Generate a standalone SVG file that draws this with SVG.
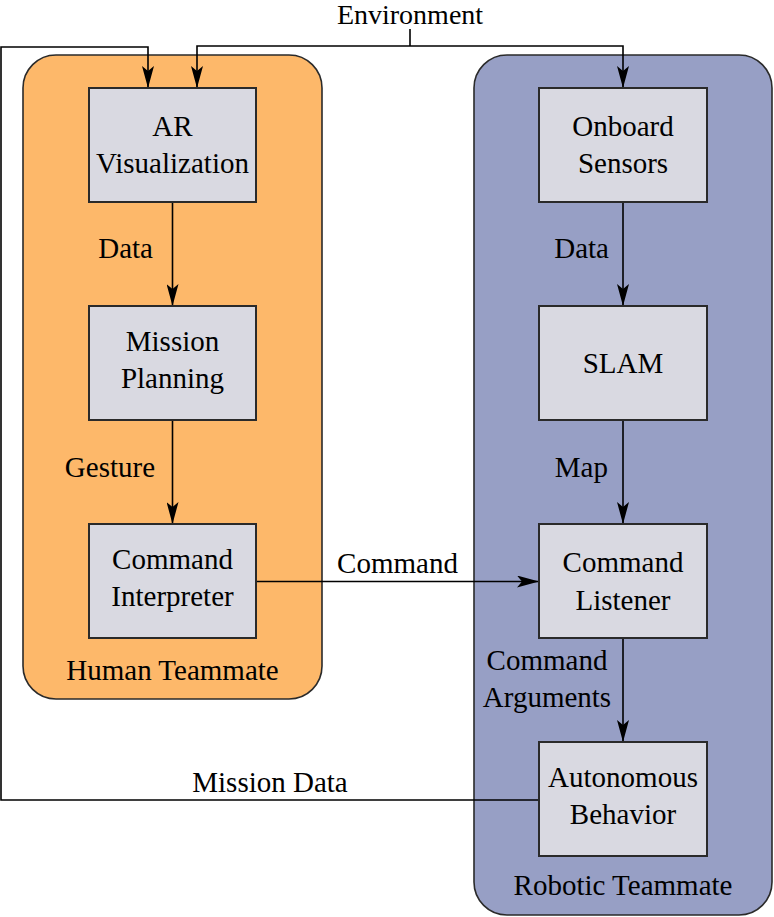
<svg xmlns="http://www.w3.org/2000/svg" width="774" height="917" viewBox="0 0 774 917">
<style>
text { font-family: "Liberation Serif", "Times New Roman", serif; font-size: 29px; fill: #000; }
.c { text-anchor: middle; }
.e { text-anchor: end; }
.box { fill: #D9D9E1; stroke: #2a2a2a; stroke-width: 2; }
.human { fill: #FDB86A; stroke: #2a2a2a; stroke-width: 1.6; }
.robot { fill: #979FC5; stroke: #2a2a2a; stroke-width: 1.6; }
.ln { fill: none; stroke: #000; stroke-width: 1.6; }
.arr { marker-end: url(#ah); }
</style>
<defs>
<marker id="ah" viewBox="0 0 22 12" refX="22" refY="6" markerWidth="22" markerHeight="12" markerUnits="userSpaceOnUse" orient="auto">
<path d="M0,0 L22,6 L0,12 L5,6 Z" fill="#000"/>
</marker>
</defs>
<g id="human-teammate">
<rect class="human" x="23" y="55" width="299" height="644" rx="33" ry="33"/>
<text class="c" x="172.5" y="680">Human Teammate</text>
</g>
<g id="robotic-teammate">
<rect class="robot" x="474" y="55" width="298" height="860" rx="33" ry="33"/>
<text class="c" x="623" y="895">Robotic Teammate</text>
</g>
<text id="environment" class="c" x="410" y="24" style="font-size:28px">Environment</text>
<g id="connectors">
<polyline class="ln" points="410,29 410,46"/>
<polyline class="ln arr" points="410,46 197,46 197,88"/>
<polyline class="ln arr" points="410,46 623,46 623,88"/>
<polyline class="ln arr" points="539,800 1,800 1,47 148,47 148,88"/>
<polyline class="ln arr" points="172.5,202 172.5,306"/>
<polyline class="ln arr" points="172.5,420 172.5,524"/>
<polyline class="ln arr" points="623,202 623,306"/>
<polyline class="ln arr" points="623,420 623,524"/>
<polyline class="ln arr" points="623,638 623,742"/>
<polyline class="ln arr" points="256,581.5 539,581.5"/>
<text class="e" x="153" y="258">Data</text>
<text class="e" x="155" y="477">Gesture</text>
<text class="e" x="609" y="258">Data</text>
<text class="e" x="608" y="477">Map</text>
<text class="c" x="397.5" y="573">Command</text>
<text class="c" x="547" y="670">Command</text>
<text class="c" x="547" y="707">Arguments</text>
<text class="c" x="270" y="792">Mission Data</text>
</g>
<g id="ar-visualization">
<rect class="box" x="89" y="88" width="167" height="114"/>
<text class="c" x="172.5" y="136">AR</text>
<text class="c" x="172.5" y="173">Visualization</text>
</g>
<g id="mission-planning">
<rect class="box" x="89" y="306" width="167" height="114"/>
<text class="c" x="172.5" y="351">Mission</text>
<text class="c" x="172.5" y="388">Planning</text>
</g>
<g id="command-interpreter">
<rect class="box" x="89" y="524" width="167" height="114"/>
<text class="c" x="172.5" y="569">Command</text>
<text class="c" x="172.5" y="606">Interpreter</text>
</g>
<g id="onboard-sensors">
<rect class="box" x="539" y="88" width="168" height="114"/>
<text class="c" x="623" y="136">Onboard</text>
<text class="c" x="623" y="173">Sensors</text>
</g>
<g id="slam">
<rect class="box" x="539" y="306" width="168" height="114"/>
<text class="c" x="623" y="373">SLAM</text>
</g>
<g id="command-listener">
<rect class="box" x="539" y="524" width="168" height="114"/>
<text class="c" x="623" y="572">Command</text>
<text class="c" x="623" y="610">Listener</text>
</g>
<g id="autonomous-behavior">
<rect class="box" x="539" y="742" width="168" height="114"/>
<text class="c" x="623" y="787">Autonomous</text>
<text class="c" x="623" y="824">Behavior</text>
</g>
</svg>
